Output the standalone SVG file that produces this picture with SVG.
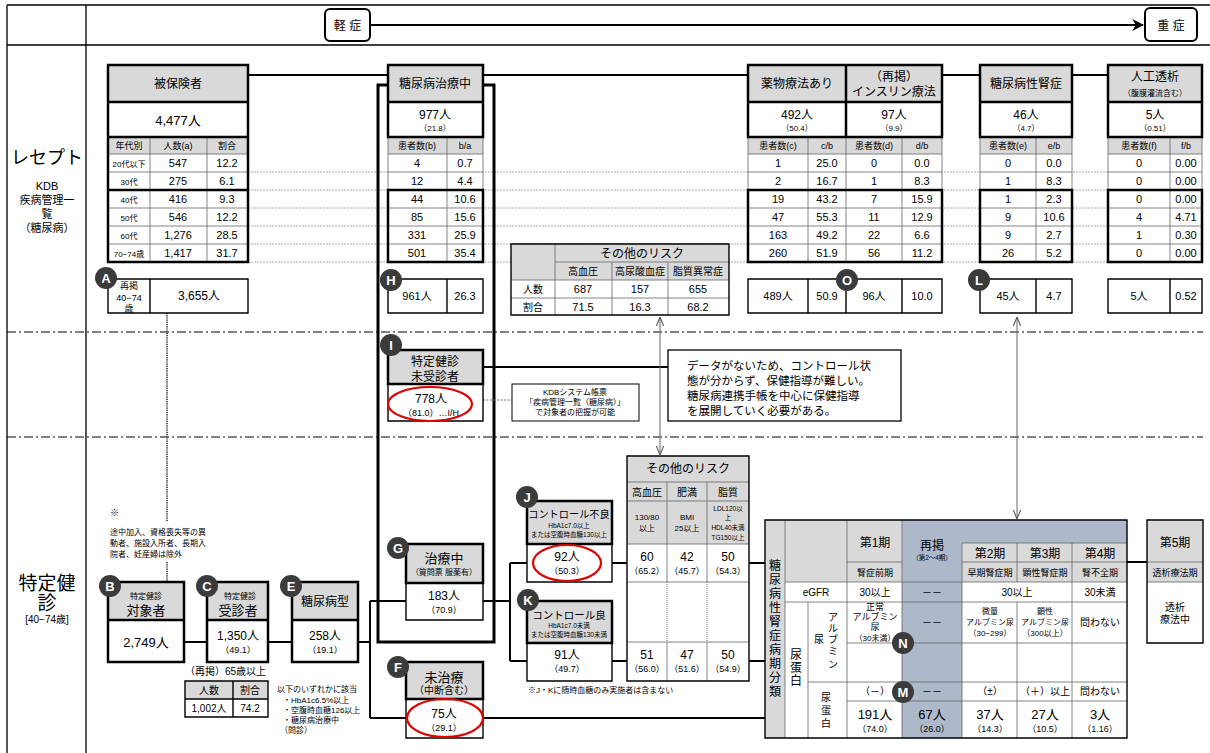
<svg xmlns="http://www.w3.org/2000/svg" width="1210" height="753" viewBox="0 0 1210 753">
<style>
text{font-family:"Liberation Sans","Noto Sans CJK JP",sans-serif;text-anchor:middle;fill:#000;font-size:11px}
.st{text-anchor:start}
.g{fill:#d9d9d9}
.w{fill:#fff}
.bl{fill:#adb9ca}
.tk{fill:none;stroke:#000;stroke-width:2.5}
.md{fill:none;stroke:#000;stroke-width:1.4}
.tn{fill:none;stroke:#666;stroke-width:0.8}
.ln{fill:none;stroke:#000;stroke-width:2}
.gl{fill:none;stroke:#aaa;stroke-width:1;stroke-dasharray:2,1}
.dd{fill:none;stroke:#000;stroke-width:1;stroke-dasharray:9,3,2,3}
.dv{fill:none;stroke:#555;stroke-width:2;stroke-dasharray:1.2,1}
.ar{fill:none;stroke:#666;stroke-width:1;marker-start:url(#oa);marker-end:url(#oa)}
.red{fill:none;stroke:#e00000;stroke-width:2.2}
.cl circle{fill:#3b3b3b}
.cl text{fill:#fff;font-weight:bold;font-size:13px}
.f18{font-size:18px}
.f13{font-size:13px}
.f12{font-size:12px}
.f10{font-size:10px}
.f9{font-size:9px}
.f8{font-size:8px}
.f7{font-size:6.5px}
</style>
<defs>
<marker id="oa" viewBox="0 0 10 10" refX="10" refY="5" markerWidth="9" markerHeight="9" markerUnits="userSpaceOnUse" orient="auto-start-reverse"><path d="M0,1 L10,5 L0,9" fill="none" stroke="#555" stroke-width="1.2"/></marker>
<marker id="fa" viewBox="0 0 10 10" refX="9" refY="5" markerWidth="12" markerHeight="12" markerUnits="userSpaceOnUse" orient="auto"><path d="M0,0 L10,5 L0,10 L3,5 Z" fill="#000"/></marker>
</defs>
<rect width="1210" height="753" fill="#fff"/>

<g id="frame">
<path d="M7 5H1210M7 45H1210M7 5V753M86 5V753" stroke="#000" stroke-width="1.3" fill="none"/>
<path class="dd" d="M7 332H1203M7 437H1203"/>
<text class="f18" x="47" y="164">レセプト</text>
<text x="47" y="190">KDB</text>
<text x="47" y="204">疾病管理一</text>
<text x="47" y="218">覧</text>
<text x="47" y="232">（糖尿病）</text>
<text style="font-size:19px" x="47" y="590">特定健</text>
<text style="font-size:19px" x="47" y="610">診</text>
<text class="f10" x="47" y="623">[40−74歳]</text>
<path class="gl" d="M248 172H1108M248 190H1108M248 208H1108M248 226H1108M248 244H1108M248 262H1108"/>
</g>

<g id="connectors">
<path class="ln" d="M370 25H1143" marker-end="url(#fa)"/>
<path class="ln" d="M248 75H1108"/>
<rect x="378" y="85" width="116" height="557" fill="none" stroke="#000" stroke-width="3"/>
<path class="ln" d="M483 367H668"/>
<path d="M483 400H512" stroke="#777" stroke-width="1" stroke-dasharray="2,1.5" fill="none"/>
<path class="dv" d="M167 313V522M167 562V582"/>
<path class="ln" d="M184 642H207M268 642H292M358 642H370M370 601V718M370 601H406M370 718H406M483 601H510M510 563V661M510 563H527M510 661H527M612 563H627M612 661H627M749 563H765M749 661H765M483 718H765M1127 562H1147"/>
<path class="ar" d="M660 317V455"/>
<path class="ar" d="M1017 317V519"/>
</g>

<g id="keisho">
<rect x="325" y="9" width="45" height="32" rx="5" fill="#fff" stroke="#000" stroke-width="2"/>
<text class="f12" x="347.5" y="30">軽 症</text>
</g>
<g id="jusho">
<rect x="1145" y="8" width="52" height="33" rx="5" fill="#fff" stroke="#000" stroke-width="2"/>
<text class="f12" x="1171" y="30">重 症</text>
</g>

<g id="hihokensha">
<rect class="g" x="108" y="65" width="140" height="37"/>
<rect class="w" x="108" y="102" width="140" height="35"/>
<rect class="g" x="108" y="137" width="140" height="17"/>
<rect class="w" x="108" y="154" width="140" height="108"/>
<path class="tn" d="M150 137V262M207 137V262M108 154H248M108 172H248M108 208H248M108 226H248M108 244H248"/>
<path class="tk" d="M108 65H248V262H108ZM108 102H248M108 137H248M108 190H248"/>
<text class="f12" x="178" y="88">被保険者</text>
<text class="f13" x="178" y="125">4,477人</text>
<text class="f9" x="129" y="149">年代別</text><text class="f9" x="178" y="149">人数(a)</text><text class="f9" x="227" y="149">割合</text>
<text class="f8" x="129" y="167">20代以下</text><text x="178" y="167">547</text><text x="227" y="167">12.2</text>
<text class="f8" x="129" y="185">30代</text><text x="178" y="185">275</text><text x="227" y="185">6.1</text>
<text class="f8" x="129" y="203">40代</text><text x="178" y="203">416</text><text x="227" y="203">9.3</text>
<text class="f8" x="129" y="221">50代</text><text x="178" y="221">546</text><text x="227" y="221">12.2</text>
<text class="f8" x="129" y="239">60代</text><text x="178" y="239">1,276</text><text x="227" y="239">28.5</text>
<text class="f8" x="129" y="257">70−74歳</text><text x="178" y="257">1,417</text><text x="227" y="257">31.7</text>
</g>

<g id="A">
<rect class="w" x="108" y="279" width="140" height="34"/>
<path class="md" d="M108 279H248V313H108ZM150 279V313"/>
<text class="f9" x="129" y="289">再掲</text><text class="f9" x="129" y="301">40−74</text><text class="f9" x="129" y="312">歳</text>
<text class="f12" x="199" y="300">3,655人</text>
<g class="cl"><circle cx="106" cy="278" r="11"/><text x="106" y="283">A</text></g>
</g>

<g id="chiryochu">
<rect class="g" x="388" y="65" width="95" height="37"/>
<rect class="w" x="388" y="102" width="95" height="35"/>
<rect class="g" x="388" y="137" width="95" height="17"/>
<rect class="w" x="388" y="154" width="95" height="108"/>
<path class="tn" d="M447 137V262M388 137V190M483 137V190M388 154H483M388 172H483M388 208H483M388 226H483M388 244H483"/>
<path class="tk" d="M388 65H483V137H388ZM388 102H483M388 190H483V262H388Z"/>
<text class="f12" x="435" y="88">糖尿病治療中</text>
<text class="f12" x="435" y="119">977人</text><text class="f8" x="435" y="131">（21.8）</text>
<text class="f9" x="417" y="149">患者数(b)</text><text class="f9" x="465" y="149">b/a</text>
<text x="417" y="167">4</text><text x="465" y="167">0.7</text>
<text x="417" y="185">12</text><text x="465" y="185">4.4</text>
<text x="417" y="203">44</text><text x="465" y="203">10.6</text>
<text x="417" y="221">85</text><text x="465" y="221">15.6</text>
<text x="417" y="239">331</text><text x="465" y="239">25.9</text>
<text x="417" y="257">501</text><text x="465" y="257">35.4</text>
</g>

<g id="H">
<rect class="w" x="388" y="279" width="95" height="34"/>
<path class="md" d="M388 279H483V313H388ZM447 279V313"/>
<text x="417" y="300">961人</text><text x="465" y="300">26.3</text>
<g class="cl"><circle cx="391" cy="280" r="11"/><text x="391" y="285">H</text></g>
</g>

<g id="risk-top">
<rect class="g" x="511" y="244" width="218" height="36"/>
<rect class="w" x="511" y="280" width="218" height="35"/>
<path class="tn" d="M555 244V315M612 262V315M668 262V315M555 262H729M511 280H729M511 298H729"/>
<path class="md" d="M511 244H729V315H511Z"/>
<text class="f12" x="642" y="258">その他のリスク</text>
<text class="f10" x="583" y="275">高血圧</text><text class="f10" x="640" y="275">高尿酸血症</text><text class="f10" x="698" y="275">脂質異常症</text>
<text class="f10" x="533" y="293">人数</text><text x="583" y="293">687</text><text x="640" y="293">157</text><text x="698" y="293">655</text>
<text class="f10" x="533" y="311">割合</text><text x="583" y="311">71.5</text><text x="640" y="311">16.3</text><text x="698" y="311">68.2</text>
</g>

<g id="yakubutsu">
<rect class="g" x="748" y="65" width="194" height="37"/>
<rect class="w" x="748" y="102" width="194" height="35"/>
<rect class="g" x="748" y="137" width="194" height="17"/>
<rect class="w" x="748" y="154" width="194" height="108"/>
<path class="tn" d="M808 137V262M846 137V262M902 137V262M748 137V190M942 137V190M748 154H942M748 172H942M748 208H942M748 226H942M748 244H942"/>
<path class="tk" d="M748 65H942V137H748ZM748 102H942M846 65V137M748 190H942V262H748Z"/>
<text class="f12" x="797" y="88">薬物療法あり</text>
<text class="f12" x="894" y="81">（再掲）</text><text class="f12" x="894" y="96">インスリン療法</text>
<text class="f12" x="797" y="119">492人</text><text class="f8" x="797" y="131">（50.4）</text>
<text class="f12" x="894" y="119">97人</text><text class="f8" x="894" y="131">（9.9）</text>
<text class="f9" x="778" y="149">患者数(c)</text><text class="f9" x="827" y="149">c/b</text><text class="f9" x="874" y="149">患者数(d)</text><text class="f9" x="922" y="149">d/b</text>
<text x="778" y="167">1</text><text x="827" y="167">25.0</text><text x="874" y="167">0</text><text x="922" y="167">0.0</text>
<text x="778" y="185">2</text><text x="827" y="185">16.7</text><text x="874" y="185">1</text><text x="922" y="185">8.3</text>
<text x="778" y="203">19</text><text x="827" y="203">43.2</text><text x="874" y="203">7</text><text x="922" y="203">15.9</text>
<text x="778" y="221">47</text><text x="827" y="221">55.3</text><text x="874" y="221">11</text><text x="922" y="221">12.9</text>
<text x="778" y="239">163</text><text x="827" y="239">49.2</text><text x="874" y="239">22</text><text x="922" y="239">6.6</text>
<text x="778" y="257">260</text><text x="827" y="257">51.9</text><text x="874" y="257">56</text><text x="922" y="257">11.2</text>
</g>

<g id="O">
<rect class="w" x="748" y="279" width="194" height="34"/>
<path class="md" d="M748 279H942V313H748ZM808 279V313M846 279V313M902 279V313"/>
<text x="778" y="300">489人</text><text x="827" y="300">50.9</text><text x="874" y="300">96人</text><text x="922" y="300">10.0</text>
<g class="cl"><circle cx="847" cy="280" r="11"/><text x="847" y="285">O</text></g>
</g>

<g id="jinsho">
<rect class="g" x="980" y="65" width="92" height="37"/>
<rect class="w" x="980" y="102" width="92" height="35"/>
<rect class="g" x="980" y="137" width="92" height="17"/>
<rect class="w" x="980" y="154" width="92" height="108"/>
<path class="tn" d="M1036 137V262M980 137V190M1072 137V190M980 154H1072M980 172H1072M980 208H1072M980 226H1072M980 244H1072"/>
<path class="tk" d="M980 65H1072V137H980ZM980 102H1072M980 190H1072V262H980Z"/>
<text class="f12" x="1026" y="88">糖尿病性腎症</text>
<text class="f12" x="1026" y="119">46人</text><text class="f8" x="1026" y="131">（4.7）</text>
<text class="f9" x="1008" y="149">患者数(e)</text><text class="f9" x="1054" y="149">e/b</text>
<text x="1008" y="167">0</text><text x="1054" y="167">0.0</text>
<text x="1008" y="185">1</text><text x="1054" y="185">8.3</text>
<text x="1008" y="203">1</text><text x="1054" y="203">2.3</text>
<text x="1008" y="221">9</text><text x="1054" y="221">10.6</text>
<text x="1008" y="239">9</text><text x="1054" y="239">2.7</text>
<text x="1008" y="257">26</text><text x="1054" y="257">5.2</text>
</g>

<g id="L">
<rect class="w" x="980" y="279" width="92" height="34"/>
<path class="md" d="M980 279H1072V313H980ZM1036 279V313"/>
<text x="1008" y="300">45人</text><text x="1054" y="300">4.7</text>
<g class="cl"><circle cx="979" cy="280" r="11"/><text x="979" y="285">L</text></g>
</g>

<g id="toseki">
<rect class="g" x="1108" y="65" width="94" height="37"/>
<rect class="w" x="1108" y="102" width="94" height="35"/>
<rect class="g" x="1108" y="137" width="94" height="17"/>
<rect class="w" x="1108" y="154" width="94" height="108"/>
<path class="tn" d="M1170 137V262M1108 137V190M1202 137V190M1108 154H1202M1108 172H1202M1108 208H1202M1108 226H1202M1108 244H1202"/>
<path class="tk" d="M1108 65H1202V137H1108ZM1108 102H1202M1108 190H1202V262H1108Z"/>
<text class="f12" x="1155" y="81">人工透析</text><text class="f8" x="1155" y="96">（腹膜灌流含む）</text>
<text class="f12" x="1155" y="119">5人</text><text class="f8" x="1155" y="131">（0.51）</text>
<text class="f9" x="1139" y="149">患者数(f)</text><text class="f9" x="1186" y="149">f/b</text>
<text x="1139" y="167">0</text><text x="1186" y="167">0.00</text>
<text x="1139" y="185">0</text><text x="1186" y="185">0.00</text>
<text x="1139" y="203">0</text><text x="1186" y="203">0.00</text>
<text x="1139" y="221">4</text><text x="1186" y="221">4.71</text>
<text x="1139" y="239">1</text><text x="1186" y="239">0.30</text>
<text x="1139" y="257">0</text><text x="1186" y="257">0.00</text>
</g>

<g id="toseki-sub">
<rect class="w" x="1108" y="279" width="94" height="34"/>
<path class="md" d="M1108 279H1202V313H1108ZM1170 279V313"/>
<text x="1139" y="300">5人</text><text x="1186" y="300">0.52</text>
</g>

<g id="I">
<rect class="g" x="388" y="350" width="95" height="34"/>
<rect class="w" x="388" y="384" width="95" height="37"/>
<path class="tk" d="M388 350H483V384H388Z"/>
<path class="md" d="M388 384H483V421H388Z"/>
<text class="f12" x="435" y="366">特定健診</text><text class="f12" x="435" y="381">未受診者</text>
<text class="f12" x="431" y="403">778人</text><text class="f9" x="431" y="416">（81.0）…I/H</text>
<ellipse class="red" cx="430" cy="404" rx="42" ry="17"/>
<g class="cl"><circle cx="391" cy="345" r="11"/><text x="391" y="350">I</text></g>
</g>

<g id="kdb-note">
<rect x="512" y="384" width="127" height="37" fill="#fff" stroke="#000" stroke-width="1"/>
<text class="f8" x="575" y="395">KDBシステム帳票</text>
<text class="f8" x="575" y="405">「疾病管理一覧（糖尿病）」</text>
<text class="f8" x="575" y="415">で対象者の把握が可能</text>
</g>

<g id="comment">
<rect x="668" y="350" width="233" height="71" fill="#fff" stroke="#000" stroke-width="1.3"/>
<text class="st" x="687" y="370" style="font-size:11.5px">データがないため、コントロール状</text>
<text class="st" x="687" y="385" style="font-size:11.5px">態が分からず、保健指導が難しい。</text>
<text class="st" x="687" y="400" style="font-size:11.5px">糖尿病連携手帳を中心に保健指導</text>
<text class="st" x="687" y="415" style="font-size:11.5px">を展開していく必要がある。</text>
</g>

<g id="note-exclude">
<text class="st f9" x="110" y="516">※</text>
<text class="st f8" x="110" y="535">途中加入、資格喪失等の異</text>
<text class="st f8" x="110" y="546">動者、施設入所者、長期入</text>
<text class="st f8" x="110" y="557">院者、妊産婦は除外</text>
</g>

<g id="B">
<rect class="g" x="108" y="582" width="76" height="38"/>
<rect class="w" x="108" y="620" width="76" height="42"/>
<path class="tk" d="M108 582H184V662H108ZM108 620H184"/>
<text class="f8" x="146" y="599">特定健診</text><text class="f13" x="146" y="615">対象者</text>
<text class="f13" x="146" y="647">2,749人</text>
<g class="cl"><circle cx="110" cy="586" r="11"/><text x="110" y="591">B</text></g>
</g>

<g id="C">
<rect class="g" x="207" y="582" width="61" height="38"/>
<rect class="w" x="207" y="620" width="61" height="42"/>
<path class="tk" d="M207 582H268V662H207ZM207 620H268"/>
<text class="f8" x="240" y="599">特定健診</text><text class="f13" x="238" y="615">受診者</text>
<text class="f12" x="238" y="640">1,350人</text><text class="f9" x="238" y="653">（49.1）</text>
<g class="cl"><circle cx="207" cy="586" r="11"/><text x="207" y="591">C</text></g>
</g>

<g id="over65">
<text class="st f10" x="185" y="675">（再掲）65歳以上</text>
<rect class="g" x="185" y="681" width="83" height="18"/>
<rect class="w" x="185" y="699" width="83" height="18"/>
<path class="md" d="M185 681H268V717H185ZM185 699H268M233 681V717"/>
<text class="f10" x="209" y="694">人数</text><text class="f10" x="250" y="694">割合</text>
<text class="f10" x="209" y="712">1,002人</text><text class="f10" x="250" y="712">74.2</text>
</g>

<g id="E">
<rect class="g" x="292" y="582" width="66" height="38"/>
<rect class="w" x="292" y="620" width="66" height="42"/>
<path class="tk" d="M292 582H358V662H292ZM292 620H358"/>
<text class="f12" x="325" y="606">糖尿病型</text>
<text class="f12" x="325" y="640">258人</text><text class="f9" x="325" y="653">（19.1）</text>
<g class="cl"><circle cx="291" cy="586" r="11"/><text x="291" y="591">E</text></g>
</g>

<g id="criteria-note">
<text class="st f8" x="277" y="692">以下のいずれかに該当</text>
<text class="st f8" x="283" y="703">・HbA1c6.5%以上</text>
<text class="st f8" x="283" y="713">・空腹時血糖126以上</text>
<text class="st f8" x="283" y="723">・糖尿病治療中</text>
<text class="st f8" x="280" y="733">（問診）</text>
</g>

<g id="G">
<rect class="g" x="406" y="544" width="77" height="39"/>
<rect class="w" x="406" y="583" width="77" height="37"/>
<path class="tk" d="M406 544H483V583H406Z"/>
<path class="md" d="M406 583H483V620H406Z"/>
<text class="f13" x="444" y="563">治療中</text><text class="f8" x="444" y="575">（質問票 服薬有）</text>
<text class="f12" x="444" y="600">183人</text><text class="f9" x="444" y="613">（70.9）</text>
<g class="cl"><circle cx="398" cy="548" r="11"/><text x="398" y="553">G</text></g>
</g>

<g id="F">
<rect class="g" x="406" y="662" width="77" height="37"/>
<rect class="w" x="406" y="699" width="77" height="39"/>
<path class="tk" d="M406 662H483V699H406Z"/>
<path class="md" d="M406 699H483V738H406Z"/>
<text class="f13" x="444" y="682">未治療</text><text class="f10" x="444" y="694">（中断含む）</text>
<text class="f12" x="444" y="718">75人</text><text class="f9" x="444" y="731">（29.1）</text>
<ellipse class="red" cx="445" cy="718" rx="38" ry="19"/>
<g class="cl"><circle cx="398" cy="667" r="11"/><text x="398" y="672">F</text></g>
</g>

<g id="J">
<rect class="g" x="527" y="501" width="85" height="43"/>
<rect class="w" x="527" y="544" width="85" height="38"/>
<path class="tk" d="M527 501H612V544H527Z"/>
<path class="md" d="M527 544H612V582H527Z"/>
<text x="569" y="518" style="font-size:10.2px">コントロール不良</text>
<text class="f7" x="569" y="528">HbA1c7.0以上</text>
<text class="f7" x="569" y="537">または空腹時血糖130以上</text>
<text class="f12" x="567" y="561">92人</text><text class="f9" x="567" y="574">（50.3）</text>
<ellipse class="red" cx="567" cy="563" rx="34" ry="18"/>
<g class="cl"><circle cx="527" cy="497" r="11"/><text x="527" y="502">J</text></g>
</g>

<g id="K">
<rect class="g" x="527" y="601" width="85" height="42"/>
<rect class="w" x="527" y="643" width="85" height="38"/>
<path class="tk" d="M527 601H612V643H527Z"/>
<path class="md" d="M527 643H612V681H527Z"/>
<text x="569" y="619" style="font-size:10.5px">コントロール良</text>
<text class="f7" x="569" y="628">HbA1c7.0未満</text>
<text class="f7" x="569" y="637">または空腹時血糖130未満</text>
<text class="f12" x="567" y="659">91人</text><text class="f9" x="567" y="672">（49.7）</text>
<g class="cl"><circle cx="528" cy="600" r="11"/><text x="528" y="605">K</text></g>
</g>

<g id="risk-bottom">
<rect class="g" x="627" y="456" width="122" height="88"/>
<rect class="w" x="627" y="544" width="122" height="137"/>
<path class="tn" d="M627 482H749M627 501H749M627 544H749M627 582H749M627 642H749M667 482V582M707 482V582M667 642V681M707 642V681"/>
<path d="M667 582V642M707 582V642" stroke="#777" stroke-width="1" stroke-dasharray="1,1" fill="none"/>
<path class="md" d="M627 456H749V681H627Z"/>
<text class="f12" x="688" y="473">その他のリスク</text>
<text class="f10" x="647" y="496">高血圧</text><text class="f10" x="687" y="496">肥満</text><text class="f10" x="728" y="496">脂質</text>
<text class="f8" x="647" y="520">130/80</text><text class="f8" x="647" y="531">以上</text>
<text class="f8" x="687" y="520">BMI</text><text class="f8" x="687" y="531">25以上</text>
<text class="f7" x="728" y="511">LDL120以</text><text class="f7" x="728" y="520">上</text><text class="f7" x="728" y="530">HDL40未満</text><text class="f7" x="728" y="540">TG150以上</text>
<text class="f12" x="647" y="561">60</text><text class="f9" x="647" y="574">（65.2）</text>
<text class="f12" x="687" y="561">42</text><text class="f9" x="687" y="574">（45.7）</text>
<text class="f12" x="728" y="561">50</text><text class="f9" x="728" y="574">（54.3）</text>
<text class="f12" x="647" y="659">51</text><text class="f9" x="647" y="672">（56.0）</text>
<text class="f12" x="687" y="659">47</text><text class="f9" x="687" y="672">（51.6）</text>
<text class="f12" x="728" y="659">50</text><text class="f9" x="728" y="672">（54.9）</text>
<text class="st f8" x="528" y="693">※J・Kに随時血糖のみ実施者は含まない</text>
</g>

<g id="stage-table">
<rect class="w" x="765" y="520" width="362" height="218"/>
<rect class="g" x="765" y="520" width="20" height="218"/>
<rect class="g" x="785" y="520" width="117" height="62"/>
<rect class="g" x="962" y="543" width="165" height="39"/>
<rect class="bl" x="902" y="520" width="60" height="218"/>
<rect class="bl" x="962" y="520" width="165" height="23"/>
<path class="tn" d="M785 520V738M847 520V738M808 602V738M902 520V738M962 543V738M1017 543V582M1017 602V738M1072 543V738M962 543H1127M847 562H902M962 562H1127M785 582H1127M785 602H1127M847 643H1127M808 682H1127M847 701H1127"/>
<path class="md" d="M765 520H1127V738H765Z"/>
<text class="f12" x="775" y="570">糖</text><text class="f12" x="775" y="584">尿</text><text class="f12" x="775" y="598">病</text><text class="f12" x="775" y="612">性</text><text class="f12" x="775" y="626">腎</text><text class="f12" x="775" y="640">症</text><text class="f12" x="775" y="654">病</text><text class="f12" x="775" y="668">期</text><text class="f12" x="775" y="682">分</text><text class="f12" x="775" y="696">類</text>
<text class="f12" x="875" y="547">第1期</text><text class="f9" x="875" y="576">腎症前期</text>
<text class="f12" x="932" y="550">再掲</text><text class="f7" x="932" y="560">（第2～4期）</text>
<text class="f12" x="990" y="558">第2期</text><text class="f12" x="1045" y="558">第3期</text><text class="f12" x="1100" y="558">第4期</text>
<text class="f9" x="990" y="576">早期腎症期</text><text class="f9" x="1045" y="576">顕性腎症期</text><text class="f9" x="1100" y="576">腎不全期</text>
<text class="f10" x="816" y="596">eGFR</text><text class="f10" x="875" y="596">30以上</text><text class="f10" x="932" y="596">－－</text><text class="f10" x="1017" y="596">30以上</text><text class="f10" x="1100" y="596">30未満</text>
<text class="f12" x="796" y="659">尿</text><text class="f12" x="796" y="672">蛋</text><text class="f12" x="796" y="685">白</text>
<text class="f10" x="833" y="621">ア</text><text class="f10" x="833" y="632">ル</text><text class="f10" x="833" y="643">ブ</text><text class="f10" x="833" y="655">ミ</text><text class="f10" x="833" y="668">ン</text><text class="f10" x="819" y="643">尿</text>
<text class="f10" x="826" y="701">尿</text><text class="f10" x="826" y="714">蛋</text><text class="f10" x="826" y="727">白</text>
<text class="f9" x="875" y="610">正常</text><text class="f9" x="875" y="620">アルブミン</text><text class="f9" x="875" y="630">尿</text><text class="f8" x="875" y="641">（30未満）</text>
<text class="f10" x="932" y="626">－－</text>
<text class="f8" x="990" y="614">微量</text><text class="f8" x="990" y="625">アルブミン尿</text><text class="f8" x="990" y="636">（30−299）</text>
<text class="f8" x="1045" y="614">顕性</text><text class="f8" x="1045" y="625">アルブミン尿</text><text class="f8" x="1045" y="636">（300以上）</text>
<text class="f10" x="1100" y="626">問わない</text>
<text class="f10" x="875" y="695">（－）</text><text class="f10" x="932" y="695">－－</text><text class="f10" x="990" y="695">（±）</text><text class="f10" x="1045" y="695">（＋）以上</text><text class="f10" x="1100" y="695">問わない</text>
<text class="f13" x="875" y="719">191人</text><text class="f9" x="875" y="732">（74.0）</text>
<text class="f13" x="932" y="719">67人</text><text class="f9" x="932" y="732">（26.0）</text>
<text class="f13" x="990" y="719">37人</text><text class="f9" x="990" y="732">（14.3）</text>
<text class="f13" x="1045" y="719">27人</text><text class="f9" x="1045" y="732">（10.5）</text>
<text class="f13" x="1100" y="719">3人</text><text class="f9" x="1100" y="732">（1.16）</text>
<g class="cl"><circle cx="903" cy="643" r="11"/><text x="903" y="648">N</text></g>
<g class="cl"><circle cx="903" cy="692" r="11"/><text x="903" y="697">M</text></g>
</g>

<g id="stage5">
<rect class="g" x="1147" y="520" width="56" height="62"/>
<rect class="w" x="1147" y="582" width="56" height="61"/>
<path class="tn" d="M1147 562H1203M1147 582H1203"/>
<path class="md" d="M1147 520H1203V643H1147Z"/>
<text class="f12" x="1175" y="547">第5期</text>
<text class="f9" x="1175" y="576">透析療法期</text>
<text class="f10" x="1175" y="611">透析</text><text class="f10" x="1175" y="623">療法中</text>
</g>
</svg>
